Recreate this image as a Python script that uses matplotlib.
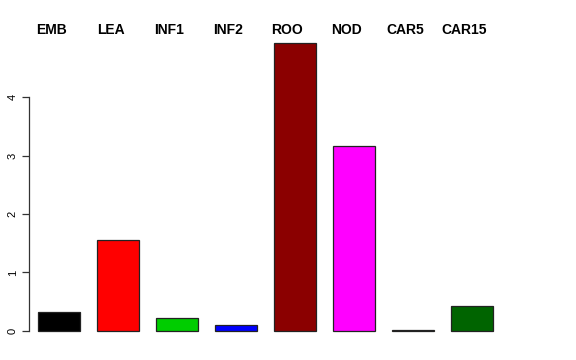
import matplotlib
matplotlib.use("Agg")
import matplotlib.pyplot as plt

categories = ["EMB", "LEA", "INF1", "INF2", "ROO", "NOD", "CAR5", "CAR15"]
values = [0.32, 1.55, 0.22, 0.10, 4.92, 3.16, 0.01, 0.43]
colors = ["#000000", "#FF0000", "#00CD00", "#0000FF", "#8B0000", "#FF00FF", "#FFA500", "#006400"]
yticks = [0, 1, 2, 3, 4]

plt.rcParams['font.family'] = ['Liberation Sans', 'DejaVu Sans']

fig = plt.figure(figsize=(5.76, 3.6), dpi=100)
xmin, xmax = 0.186, 11.7
ppu = 42.1
ax = fig.add_axes([29/576, (360-342.5)/360, (xmax-xmin)*ppu/576, (342.5-31.5)/360])

x = [0.9 + 1.4*i for i in range(len(categories))]
ax.bar(x, values, width=1.0, color=colors, edgecolor="#222222", linewidth=0.9)

ax.set_xlim(xmin, xmax)
ax.set_ylim(-0.197, 5.12)

for s in ["top", "right", "bottom"]:
    ax.spines[s].set_visible(False)
ax.spines["left"].set_bounds(0, 4)
ax.spines["left"].set_color("#333333")
ax.spines["left"].set_linewidth(0.9)
ax.set_xticks([])
ax.set_yticks(yticks)
ax.set_yticklabels([str(t) for t in yticks], rotation=90, va="center", fontsize=8)
ax.tick_params(axis="y", length=5, width=0.9, color="#333333", pad=3)

for xi, lab in zip(x, categories):
    ax.annotate(lab, xy=(xi, 1.0), xycoords=("data", "figure fraction"),
                xytext=(-7.5, -30), textcoords="offset pixels",
                ha="center", va="center", fontsize=10, fontweight="bold")

fig.savefig("out.png", dpi=100)
